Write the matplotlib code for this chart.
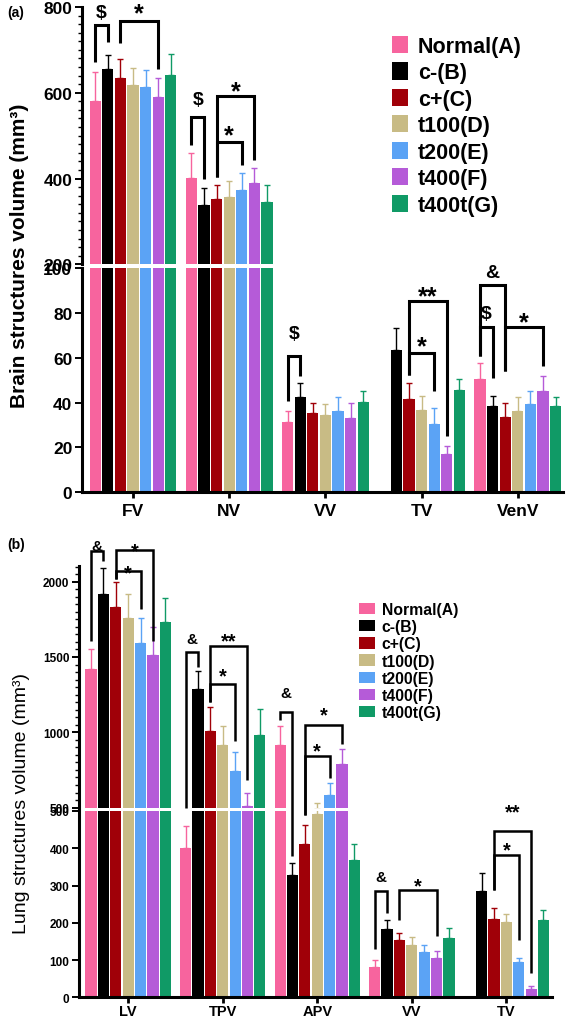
import numpy as np
import matplotlib
matplotlib.use('Agg')
import matplotlib.pyplot as plt
from matplotlib import transforms
from matplotlib.patches import Patch
from matplotlib.ticker import MultipleLocator

plt.rcParams['font.family'] = ['Liberation Sans', 'DejaVu Sans']

# groups and colours
groups = ['Normal(A)', 'c-(B)', 'c+(C)', 't100(D)', 't200(E)', 't400(F)', 't400t(G)']
colors = ['#F7649E', '#000000', '#A00008', '#C8BB85', '#5BA3F5', '#B55BD8', '#109A66']

# panel (a): brain structures
brain_cats = ['FV', 'NV', 'VV', 'TV', 'VenV']
brain_mean = [
    [580, 656, 635, 619, 614, 589, 642],
    [401, 338, 352, 357, 373, 390, 345],
    [31.3, 42.5, 35.5, 34.6, 36.2, 33.1, 40.2],
    [np.nan, 63.5, 41.6, 36.7, 30.4, 17.0, 45.6],
    [50.5, 38.4, 33.5, 36.2, 39.3, 45.1, 38.4],
]
brain_err = [
    [68, 31, 44, 39, 39, 45, 49],
    [59, 39, 34, 38, 41, 35, 41],
    [5.0, 6.4, 4.1, 4.6, 6.1, 6.5, 5.1],
    [np.nan, 10.0, 7.0, 6.1, 7.0, 3.4, 4.9],
    [7.0, 4.7, 6.1, 6.1, 6.0, 6.6, 4.1],
]
# (category, bar from, bar to, top, left foot, right foot, symbol, symbol height)
brain_sig = [
    (0, 0, 1, 759, 671, 718, '$', 793),
    (0, 2, 5, 768, 715, 655, '*', 802),
    (1, 0, 1, 543, 479, 399, '$', 591),
    (1, 2, 5, 592, 404, 443, '*', 620),
    (1, 2, 4, 485, 404, 432, '*', 516),
    (2, 0, 1, 60.7, 40.8, 52, '$', 72.1),
    (3, 2, 5, 85.2, 52.3, 25.2, '**', 90.7),
    (3, 2, 4, 62.1, 52.3, 45.3, '*', 68.4),
    (4, 0, 2, 92.7, 60.9, 54.2, '&', 99.4),
    (4, 0, 1, 73.9, 60.9, 50.8, '$', 81),
    (4, 2, 5, 73.9, 54.2, 56.5, '*', 79.1),
]

# panel (b): lung structures
lung_cats = ['LV', 'TPV', 'APV', 'VV', 'TV']
lung_mean = [
    [1418, 1916, 1830, 1759, 1591, 1515, 1732],
    [400, 1290, 1009, 916, 741, 508, 980],
    [914, 328, 411, 492, 586, 792, 369],
    [82, 183, 154, 140, 122.6, 105.5, 159],
    [np.nan, 285, 211, 202, 95.6, 22.3, 208],
]
lung_err = [
    [135, 177, 168, 159, 166, 182, 162],
    [59, 119, 159, 126, 130, 89, 177],
    [128, 32, 51, 36, 79, 97, 42],
    [18, 25, 19, 21, 17.4, 19.5, 26],
    [np.nan, 49, 29, 21.6, 9.9, 7.2, 26],
]
lung_sig = [
    (0, 0, 1, 2202, 1608, 2139, '&', 2250),
    (0, 2, 5, 2212, 2018, 1604, '*', 2239),
    (0, 2, 4, 2071, 2018, 1819, '*', 2096),
    (1, 0, 1, 1535, 500, 1431, '&', 1631),
    (1, 2, 5, 1575, 1199, 683, '**', 1646),
    (1, 2, 4, 1321, 1199, 940, '*', 1409),
    (2, 0, 1, 1133, 1080, 380, '&', 1272),
    (2, 2, 5, 1048, 490, 922, '*', 1150),
    (2, 2, 4, 841, 490, 695, '*', 911),
    (3, 0, 1, 284.6, 129.7, 225.5, '&', 328),
    (3, 2, 5, 289, 208, 165, '*', 313),
    (4, 2, 5, 447, 289, 65, '**', 505),
    (4, 2, 4, 382, 289, 155, '*', 409),
]

W, H = 567, 1020
fig = plt.figure(figsize=(W / 100, H / 100), dpi=100)
pitch = 0.131


def px_axes(left, right, top, bottom):
    return fig.add_axes([left / W, 1 - bottom / H, (right - left) / W, (bottom - top) / H])


def draw_panel(cats, means, errs, sig, box, ylim_up, ylim_lo, xlim, up_major, up_minor,
               lo_major, tick_fs, xlab_fs, xpad, spine_lw, sig_fs, sig_lw):
    left, right, top, brk_up, brk_lo, bottom = box
    ax_up = px_axes(left, right, top, brk_up)
    ax_lo = px_axes(left, right, brk_lo, bottom)
    means = np.array(means, dtype=float)
    errs = np.array(errs, dtype=float)
    xs = np.arange(len(cats))
    for ax in (ax_up, ax_lo):
        for j in range(len(groups)):
            x = xs + (j - 3) * pitch
            ax.bar(x, means[:, j], width=0.118, color=colors[j], zorder=2)
            ax.errorbar(x, means[:, j], yerr=[np.zeros(len(cats)), errs[:, j]], fmt='none',
                        ecolor=colors[j], elinewidth=1.0, capsize=2.5, capthick=1.0, zorder=1)
        ax.set_xlim(*xlim)
        ax.spines['top'].set_visible(False)
        ax.spines['right'].set_visible(False)
        ax.spines['left'].set_linewidth(spine_lw)
        ax.spines['bottom'].set_linewidth(spine_lw)
        ax.tick_params(axis='y', which='major', length=5, width=1.4, labelsize=tick_fs, pad=2)
        ax.tick_params(axis='y', which='minor', length=3, width=1.0)
    ax_up.set_ylim(*ylim_up)
    ax_lo.set_ylim(*ylim_lo)
    ax_up.spines['bottom'].set_visible(False)
    ax_up.set_xticks([])
    ax_up.yaxis.set_major_locator(MultipleLocator(up_major))
    ax_up.yaxis.set_minor_locator(MultipleLocator(up_minor))
    ax_lo.yaxis.set_major_locator(MultipleLocator(lo_major))
    ax_lo.set_xticks(xs)
    ax_lo.set_xticklabels(cats, fontsize=xlab_fs, fontweight='bold')
    ax_lo.tick_params(axis='x', length=4, width=2, pad=xpad)
    for ax in (ax_up, ax_lo):
        for t in ax.get_yticklabels():
            t.set_fontweight('bold')

    # value -> figure fraction across the broken axis
    b_up, h_up = 1 - brk_up / H, (brk_up - top) / H
    b_lo, h_lo = 1 - bottom / H, (bottom - brk_lo) / H

    def fy(v):
        if v >= ylim_up[0]:
            return b_up + (v - ylim_up[0]) / (ylim_up[1] - ylim_up[0]) * h_up
        return b_lo + (v - ylim_lo[0]) / (ylim_lo[1] - ylim_lo[0]) * h_lo

    trans = transforms.blended_transform_factory(ax_lo.transData, fig.transFigure)
    for c, j1, j2, ytop, yb1, yb2, sym, ysym in sig:
        x1 = c + (j1 - 3) * pitch
        x2 = c + (j2 - 3) * pitch
        ax_lo.plot([x1, x1, x2, x2], [fy(yb1), fy(ytop), fy(ytop), fy(yb2)], transform=trans,
                   color='black', lw=sig_lw, clip_on=False, solid_joinstyle='miter',
                   solid_capstyle='butt', zorder=5)
        if sym.startswith('*'):
            fs, k = sig_fs * 1.3, 0.55
        else:
            fs, k = sig_fs, 0.36
        tt = transforms.offset_copy(trans, fig=fig, y=-k * fs, units='points')
        ax_lo.text((x1 + x2) / 2, fy(ysym), sym, transform=tt, ha='center', va='baseline',
                   fontsize=fs, fontweight='bold', clip_on=False)
    return ax_up, ax_lo


draw_panel(brain_cats, brain_mean, brain_err, brain_sig,
           (82, 563, 8, 265.3, 269.3, 493), (200, 800), (0, 100), (-0.53, 4.47),
           200, 20, 20, 12.5, 12.5, 4, 2.2, 14, 2.2)

draw_panel(lung_cats, lung_mean, lung_err, lung_sig,
           (79, 551.7, 566.7, 808.6, 812, 998.3), (500, 2106), (0, 500), (-0.52, 4.48),
           500, 50, 100, 8.5, 10.5, 1, 2.2, 11, 1.8)

# legends
handles = [Patch(facecolor=c) for c in colors]
fig.legend(handles, groups, loc='upper left', bbox_to_anchor=(392 / W, 1 - 37 / H),
           frameon=False, prop=dict(weight='bold', size=15.5), handlelength=0.75,
           handleheight=0.85, handletextpad=0.45, labelspacing=0.25, borderpad=0,
           borderaxespad=0)
fig.legend(handles, groups, loc='upper left', bbox_to_anchor=(359 / W, 1 - 603 / H),
           frameon=False, prop=dict(weight='bold', size=11.3), handlelength=1.0,
           handleheight=0.75, handletextpad=0.45, labelspacing=0.14, borderpad=0,
           borderaxespad=0)

# axis titles and panel tags
fig.text(20 / W, 1 - 256 / H, 'Brain structures volume (mm³)', rotation=90, ha='center',
         va='center', fontsize=15, fontweight='bold')
fig.text(22 / W, 1 - 804 / H, 'Lung structures volume (mm³)', rotation=90, ha='center',
         va='center', fontsize=14)
fig.text(7 / W, 1 - 13 / H, '(a)', ha='left', va='center', fontsize=10, fontweight='bold')
fig.text(7 / W, 1 - 545 / H, '(b)', ha='left', va='center', fontsize=10, fontweight='bold')

fig.savefig('out.png', dpi=100)
